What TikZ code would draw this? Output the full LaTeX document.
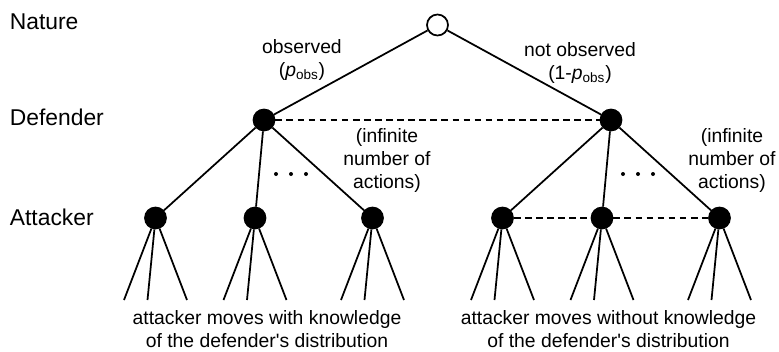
\documentclass[tikz,border=0pt]{standalone}
\usepackage{fontspec}
\setmainfont{Liberation Sans}
\begin{document}
\begin{tikzpicture}[line width=0.35mm]
        \tikzstyle{chance node}=[circle,draw,inner sep=0,minimum size=4.2mm,fill=white]
        \tikzstyle{solid node}=[circle,draw,inner sep=0,minimum size=4.2mm,fill=black]
        \tikzstyle{level 1}=[level distance=19mm,sibling distance=69.4mm]
        \tikzstyle{level 2}=[level distance=19.6mm,sibling distance=21.7mm]
        \tikzstyle{level 3}=[level distance=16.4mm,sibling distance=6.3mm]
        \tikzstyle{mid action}=[xshift=-1.8mm]
        \tikzstyle{mid leaf}=[xshift=-1.6mm]
        \tikzstyle{player}=[anchor=west,inner sep=0,font=\fontsize{13}{15.6}\selectfont]
        \tikzstyle{note}=[anchor=north,inner sep=0,align=center,font=\fontsize{11}{13}\selectfont]
        \tikzstyle{info set}=[dash pattern=on 3.8pt off 2.5pt]

        \useasboundingbox (0,0) rectangle (155.8mm,-70.4mm);

        % Players
        \node[player](nature) at (1.8mm,-4.3mm){Nature};
        \node[player](defender) at (1.8mm,-23.5mm){Defender};
        \node[player](attacker) at (1.8mm,-43.5mm){Attacker};

        % Root node and main tree structure
        \node(root)[chance node] at (87.5mm,-5mm) {}
        child{node[solid node](def1){}
                child{node[solid node](att1){}
                        child{coordinate(l1)}
                        child[mid leaf]{coordinate(l2)}
                        child{coordinate(l3)}
                        edge from parent
                    }
                child[mid action]{node[solid node](att2){}
                        child{coordinate(l4)}
                        child[mid leaf]{coordinate(l5)}
                        child{coordinate(l6)}
                        edge from parent
                    }
                child{node[solid node](att3){}
                        child{coordinate(l7)}
                        child[mid leaf]{coordinate(l8)}
                        child{coordinate(l9)}
                        edge from parent
                    }
                edge from parent
            }
        child{node[solid node](def2){}
                child{node[solid node](att4){}
                        child{coordinate(l10)}
                        child[mid leaf]{coordinate(l11)}
                        child{coordinate(l12)}
                        edge from parent
                    }
                child[mid action]{node[solid node](att5){}
                        child{coordinate(l13)}
                        child[mid leaf]{coordinate(l14)}
                        child{coordinate(l15)}
                        edge from parent
                    }
                child{node[solid node](att6){}
                        child{coordinate(l16)}
                        child[mid leaf]{coordinate(l17)}
                        child{coordinate(l18)}
                        edge from parent
                    }
                edge from parent
            };

        % Information sets (dashed lines)
        \draw[info set] (def1) -- (def2);
        \draw[info set] (att4) -- (att5);
        \draw[info set] (att5) -- (att6);

        % Dots for the other actions
        \foreach \x in {55.2,58.2,61.2,124.6,127.6,130.6}
            \fill (\x mm,-34.8mm) circle (0.4mm);

        % Labels
        \node[note](obs) at (60.4mm,-7.8mm){observed\\(\textit{p}\textsubscript{obs})};
        \node[note](notobs) at (116mm,-8.4mm){not observed\\(1-\textit{p}\textsubscript{obs})};
        \node[note](infl) at (77.4mm,-25.6mm){(infinite\\number of\\actions)};
        \node[note](infr) at (146.4mm,-25.6mm){(infinite\\number of\\actions)};
        \node[note](knowl) at (53.4mm,-62mm){attacker moves with knowledge\\of the defender\textquotesingle s distribution};
        \node[note](noknowl) at (121.7mm,-62mm){attacker moves without knowledge\\of the defender\textquotesingle s distribution};
\end{tikzpicture}
\end{document}
